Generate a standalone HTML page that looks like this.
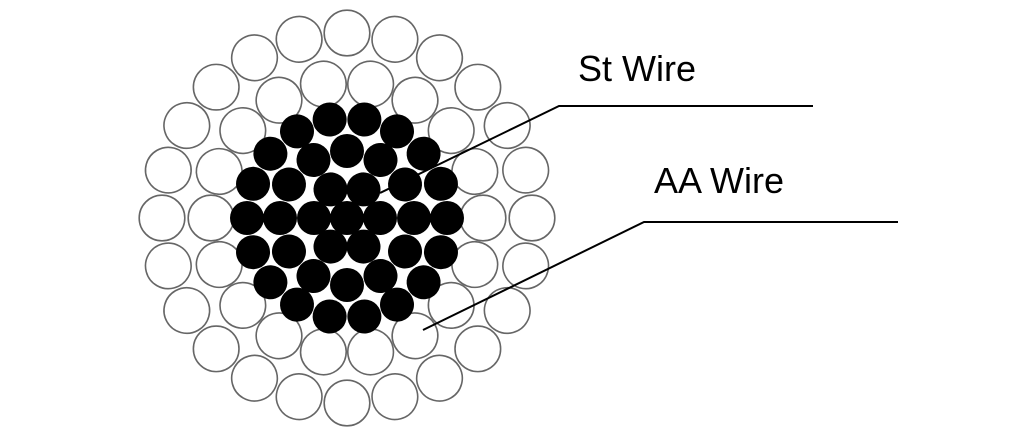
<!DOCTYPE html>
<html><head><meta charset="utf-8"><style>
html,body{margin:0;padding:0;background:#fff;}
svg{display:block;}
text{font-family:"Liberation Sans",Arial,sans-serif;font-size:36px;fill:#000;}
</style></head><body>
<svg width="1024" height="441" viewBox="0 0 1024 441" xmlns="http://www.w3.org/2000/svg">
<defs>
<circle id="o1" cx="347" cy="33" r="22.8" fill="#fff" stroke="#666" stroke-width="1.6"/>
<circle id="o2" cx="347" cy="82" r="22.8" fill="#fff" stroke="#666" stroke-width="1.6"/>
<circle id="b1" cx="347" cy="118" r="17" fill="#000"/>
<circle id="b2" cx="347" cy="151" r="17" fill="#000"/>
<circle id="b3" cx="347" cy="185" r="17" fill="#000"/>
</defs>
<g>
<use href="#o1" transform="rotate(0 347 218)"/><use href="#o1" transform="rotate(15 347 218)"/><use href="#o1" transform="rotate(30 347 218)"/><use href="#o1" transform="rotate(45 347 218)"/><use href="#o1" transform="rotate(60 347 218)"/><use href="#o1" transform="rotate(75 347 218)"/><use href="#o1" transform="rotate(90 347 218)"/><use href="#o1" transform="rotate(105 347 218)"/><use href="#o1" transform="rotate(120 347 218)"/><use href="#o1" transform="rotate(135 347 218)"/><use href="#o1" transform="rotate(150 347 218)"/><use href="#o1" transform="rotate(165 347 218)"/><use href="#o1" transform="rotate(180 347 218)"/><use href="#o1" transform="rotate(195 347 218)"/><use href="#o1" transform="rotate(210 347 218)"/><use href="#o1" transform="rotate(225 347 218)"/><use href="#o1" transform="rotate(240 347 218)"/><use href="#o1" transform="rotate(255 347 218)"/><use href="#o1" transform="rotate(270 347 218)"/><use href="#o1" transform="rotate(285 347 218)"/><use href="#o1" transform="rotate(300 347 218)"/><use href="#o1" transform="rotate(315 347 218)"/><use href="#o1" transform="rotate(330 347 218)"/><use href="#o1" transform="rotate(345 347 218)"/>
</g>
<g>
<use href="#o2" transform="rotate(10 347 218)"/><use href="#o2" transform="rotate(30 347 218)"/><use href="#o2" transform="rotate(50 347 218)"/><use href="#o2" transform="rotate(70 347 218)"/><use href="#o2" transform="rotate(90 347 218)"/><use href="#o2" transform="rotate(110 347 218)"/><use href="#o2" transform="rotate(130 347 218)"/><use href="#o2" transform="rotate(150 347 218)"/><use href="#o2" transform="rotate(170 347 218)"/><use href="#o2" transform="rotate(190 347 218)"/><use href="#o2" transform="rotate(210 347 218)"/><use href="#o2" transform="rotate(230 347 218)"/><use href="#o2" transform="rotate(250 347 218)"/><use href="#o2" transform="rotate(270 347 218)"/><use href="#o2" transform="rotate(290 347 218)"/><use href="#o2" transform="rotate(310 347 218)"/><use href="#o2" transform="rotate(330 347 218)"/><use href="#o2" transform="rotate(350 347 218)"/>
</g>
<g>
<use href="#b1" transform="rotate(10 347 218)"/><use href="#b1" transform="rotate(30 347 218)"/><use href="#b1" transform="rotate(50 347 218)"/><use href="#b1" transform="rotate(70 347 218)"/><use href="#b1" transform="rotate(90 347 218)"/><use href="#b1" transform="rotate(110 347 218)"/><use href="#b1" transform="rotate(130 347 218)"/><use href="#b1" transform="rotate(150 347 218)"/><use href="#b1" transform="rotate(170 347 218)"/><use href="#b1" transform="rotate(190 347 218)"/><use href="#b1" transform="rotate(210 347 218)"/><use href="#b1" transform="rotate(230 347 218)"/><use href="#b1" transform="rotate(250 347 218)"/><use href="#b1" transform="rotate(270 347 218)"/><use href="#b1" transform="rotate(290 347 218)"/><use href="#b1" transform="rotate(310 347 218)"/><use href="#b1" transform="rotate(330 347 218)"/><use href="#b1" transform="rotate(350 347 218)"/>
</g>
<g>
<use href="#b2" transform="rotate(0 347 218)"/><use href="#b2" transform="rotate(30 347 218)"/><use href="#b2" transform="rotate(60 347 218)"/><use href="#b2" transform="rotate(90 347 218)"/><use href="#b2" transform="rotate(120 347 218)"/><use href="#b2" transform="rotate(150 347 218)"/><use href="#b2" transform="rotate(180 347 218)"/><use href="#b2" transform="rotate(210 347 218)"/><use href="#b2" transform="rotate(240 347 218)"/><use href="#b2" transform="rotate(270 347 218)"/><use href="#b2" transform="rotate(300 347 218)"/><use href="#b2" transform="rotate(330 347 218)"/>
</g>
<g>
<use href="#b3" transform="rotate(30 347 218)"/><use href="#b3" transform="rotate(90 347 218)"/><use href="#b3" transform="rotate(150 347 218)"/><use href="#b3" transform="rotate(210 347 218)"/><use href="#b3" transform="rotate(270 347 218)"/><use href="#b3" transform="rotate(330 347 218)"/>
<circle cx="347" cy="218" r="17" fill="#000"/>
</g>
<polyline points="380,193 559,106 813,106" fill="none" stroke="#000" stroke-width="2"/>
<polyline points="423,330 644,222 898,222" fill="none" stroke="#000" stroke-width="2"/>
<text x="578" y="81">St Wire</text>
<text x="654" y="193">AA Wire</text>
</svg>
</body></html>
